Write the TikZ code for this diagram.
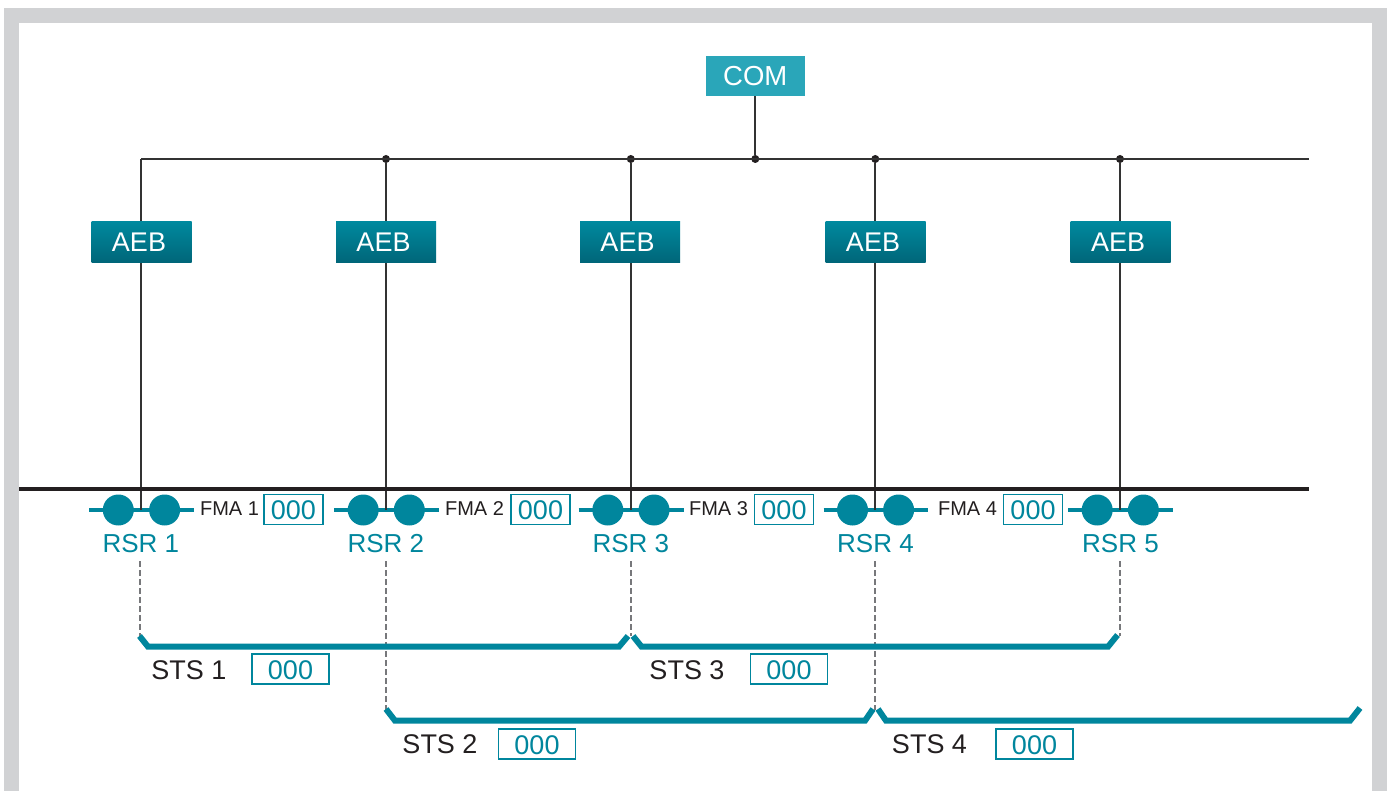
\documentclass[tikz,border=0pt]{standalone}
\usepackage{fontspec}
\setmainfont{Liberation Sans}
\definecolor{rsrteal}{HTML}{00869D}
\definecolor{comteal}{HTML}{2AA6B9}
\definecolor{aebtop}{HTML}{00899E}
\definecolor{aebbottom}{HTML}{006679}
\definecolor{framegray}{HTML}{D1D2D4}
\definecolor{wiregray}{HTML}{333333}
\definecolor{dashgray}{HTML}{77787B}
\definecolor{inkblack}{HTML}{231F20}
\tikzset{
    wire/.style={wiregray, line width=1.8pt},
    mainbus/.style={inkblack, line width=4pt},
    rsrline/.style={rsrteal, line width=4pt},
    stsline/.style={rsrteal, line width=6pt},
    dashline/.style={dashgray, line width=1.8pt, dash pattern=on 6pt off 3pt},
    junction/.style={circle, fill=inkblack, inner sep=0pt, minimum size=8pt},
    breaker/.style={circle, fill=rsrteal, inner sep=0pt, minimum size=31pt},
    aebbox/.style={top color=aebtop, bottom color=aebbottom, text=white, inner sep=0pt,
        minimum width=100pt, minimum height=40.5pt, font=\fontsize{27}{30}\selectfont},
    combox/.style={fill=comteal, text=white, inner sep=0pt,
        minimum width=99pt, minimum height=40pt, font=\fontsize{27.5}{30}\selectfont},
    rsrlabel/.style={anchor=base, text=rsrteal, inner sep=0pt, font=\fontsize{26}{30}\selectfont},
    fmalabel/.style={anchor=base, text=inkblack, inner sep=0pt, font=\fontsize{20}{24}\selectfont},
    stslabel/.style={anchor=base, text=inkblack, inner sep=0pt, font=\fontsize{27}{30}\selectfont},
    fmavalue/.style={draw=rsrteal, line width=1.5pt, fill=white, text=rsrteal, inner sep=0pt,
        text height=20.5pt, text depth=0pt,
        minimum width=59pt, minimum height=30pt, font=\fontsize{27}{30}\selectfont},
    stsvalue/.style={fmavalue, minimum width=77pt},
}
\begin{document}
\begin{tikzpicture}[x=1pt, y=-1pt]
    \useasboundingbox (0,0) rectangle (1391,791);

    % Frame
    \fill[framegray] (4,8) rectangle (1387,791);
    \fill[white] (19,23) rectangle (1372,791);

    % Upper bus
    \node[combox] (com) at (755.3,76) {COM};
    \coordinate (buscorner) at (141.3,159);
    \coordinate (busend) at (1309,159);
    \node[junction] (busjoin2) at (386,159) {};
    \node[junction] (busjoin3) at (630.8,159) {};
    \node[junction] (buscom) at (755.3,159) {};
    \node[junction] (busjoin4) at (875.3,159) {};
    \node[junction] (busjoin5) at (1120,159) {};
    \draw[wire] (buscorner) -- (busend);
    \draw[wire] (com) -- (buscom);

    % Lower bus
    \coordinate (mainwest) at (19,489);
    \coordinate (maineast) at (1309,489);

    % RSR 1
    \coordinate (rsrwest1) at (89,510);
    \coordinate (rsrjoin1) at (141.3,510);
    \coordinate (rsreast1) at (194,510);
    \draw[rsrline] (rsrwest1) -- (rsreast1);
    \draw[wire] (buscorner) -- (rsrjoin1);
    \node[aebbox] (aeb1) at (141.5,242) {AEB\kern5pt};
    \node[breaker] (rsrleft1) at (118.3,510) {};
    \node[breaker] (rsrright1) at (164.6,510) {};
    \node[rsrlabel] (rsrname1) at (140.8,552.7) {RSR 1};

    % RSR 2
    \coordinate (rsrwest2) at (334,510);
    \coordinate (rsrjoin2) at (386,510);
    \coordinate (rsreast2) at (439,510);
    \draw[rsrline] (rsrwest2) -- (rsreast2);
    \draw[wire] (busjoin2) -- (rsrjoin2);
    \node[aebbox] (aeb2) at (386,242) {AEB\kern5pt};
    \node[breaker] (rsrleft2) at (363.2,510) {};
    \node[breaker] (rsrright2) at (409.3,510) {};
    \node[rsrlabel] (rsrname2) at (385.8,552.7) {RSR 2};

    % RSR 3
    \coordinate (rsrwest3) at (578.5,510);
    \coordinate (rsrjoin3) at (630.8,510);
    \coordinate (rsreast3) at (683.5,510);
    \draw[rsrline] (rsrwest3) -- (rsreast3);
    \draw[wire] (busjoin3) -- (rsrjoin3);
    \node[aebbox] (aeb3) at (630,242) {AEB\kern5pt};
    \node[breaker] (rsrleft3) at (607.8,510) {};
    \node[breaker] (rsrright3) at (654,510) {};
    \node[rsrlabel] (rsrname3) at (630.8,552.7) {RSR 3};

    % RSR 4
    \coordinate (rsrwest4) at (823.5,510);
    \coordinate (rsrjoin4) at (875.3,510);
    \coordinate (rsreast4) at (928,510);
    \draw[rsrline] (rsrwest4) -- (rsreast4);
    \draw[wire] (busjoin4) -- (rsrjoin4);
    \node[aebbox] (aeb4) at (875.5,242) {AEB\kern5pt};
    \node[breaker] (rsrleft4) at (852.5,510) {};
    \node[breaker] (rsrright4) at (898.6,510) {};
    \node[rsrlabel] (rsrname4) at (875.5,552.7) {RSR 4};

    % RSR 5
    \coordinate (rsrwest5) at (1068,510);
    \coordinate (rsrjoin5) at (1120,510);
    \coordinate (rsreast5) at (1173,510);
    \draw[rsrline] (rsrwest5) -- (rsreast5);
    \draw[wire] (busjoin5) -- (rsrjoin5);
    \node[aebbox] (aeb5) at (1120.5,242) {AEB\kern5pt};
    \node[breaker] (rsrleft5) at (1097.2,510) {};
    \node[breaker] (rsrright5) at (1143.4,510) {};
    \node[rsrlabel] (rsrname5) at (1120.5,552.7) {RSR 5};

    \draw[mainbus] (mainwest) -- (maineast);

    % FMA labels
    \node[fmalabel] (fma1) at (229.5,515.5) {FMA 1};
    \node[fmavalue] (fmaval1) at (293.3,509.7) {000};
    \node[fmalabel] (fma2) at (474.5,515.5) {FMA 2};
    \node[fmavalue] (fmaval2) at (540.5,509.7) {000};
    \node[fmalabel] (fma3) at (718.5,515.5) {FMA 3};
    \node[fmavalue] (fmaval3) at (784,509.7) {000};
    \node[fmalabel] (fma4) at (967.5,515.5) {FMA 4};
    \node[fmavalue] (fmaval4) at (1033,509.7) {000};

    % Dashed drops
    \coordinate (droptop1) at (140,561);
    \coordinate (droptop2) at (386,561);
    \coordinate (droptop3) at (630.8,561);
    \coordinate (droptop4) at (875.3,561);
    \coordinate (droptop5) at (1120,561);
    \coordinate (dropend1) at (140,636);
    \coordinate (dropend2) at (386,710);
    \coordinate (dropend3) at (630.8,636);
    \coordinate (dropend4) at (875.3,710);
    \coordinate (dropend5) at (1120,636);
    \draw[dashline] (droptop1) -- (dropend1);
    \draw[dashline] (droptop2) -- (dropend2);
    \draw[dashline] (droptop3) -- (dropend3);
    \draw[dashline] (droptop4) -- (dropend4);
    \draw[dashline] (droptop5) -- (dropend5);

    % STS brackets
    \draw[stsline] (139.5,636) -- (148,646.7) -- (619,646.7) -- (628,636);
    \draw[stsline] (633,636) -- (641.5,646.7) -- (1108,646.7) -- (1117.5,635);
    \draw[stsline] (386,709) -- (395,720.7) -- (865,720.7) -- (873,709);
    \draw[stsline] (878,709) -- (886,720.7) -- (1350,720.7) -- (1360,708);

    % STS labels
    \node[stslabel] (sts1) at (189,679) {STS 1};
    \node[stsvalue] (stsval1) at (290.5,669) {000};
    \node[stslabel] (sts2) at (440,753) {STS 2};
    \node[stsvalue] (stsval2) at (537,744) {000};
    \node[stslabel] (sts3) at (687,679) {STS 3};
    \node[stsvalue] (stsval3) at (789,669) {000};
    \node[stslabel] (sts4) at (929.5,753) {STS 4};
    \node[stsvalue] (stsval4) at (1034.5,744) {000};
\end{tikzpicture}
\end{document}
